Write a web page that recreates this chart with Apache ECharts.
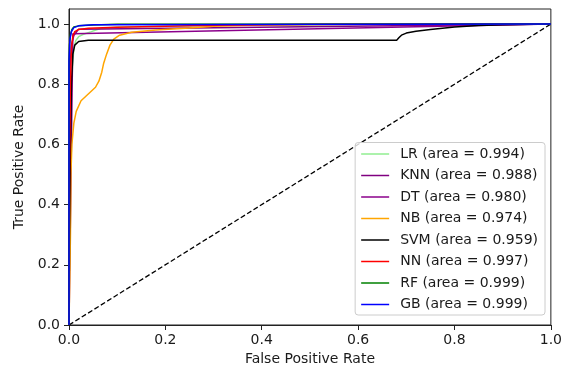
<!DOCTYPE html>
<html>
<head>
<meta charset="utf-8">
<script src="https://cdn.jsdelivr.net/npm/echarts@6/dist/echarts.min.js"></script>
<style>
html,body{margin:0;padding:0;background:#fff;}
#chart{width:565px;height:371px;}
</style>
</head>
<body>
<div id="chart"></div>
<script>
// ---- data ----
const names = ['LR (area = 0.994)','KNN (area = 0.988)','DT (area = 0.980)','NB (area = 0.974)','SVM (area = 0.959)','NN (area = 0.997)','RF (area = 0.999)','GB (area = 0.999)'];
const colors = ['#90ee90','#800080','#8b008b','#ffa500','#000000','#ff0000','#008000','#0000ff'];

const lrFpr = [0,0.002,0.004,0.007,0.01,0.014,0.02,0.03,0.045,0.065,0.1,0.2,0.4,0.7,1];
const lrTpr = [0,0.45,0.7,0.85,0.92,0.945,0.958,0.966,0.974,0.985,0.99,0.993,0.997,0.999,1];

const knnFpr = [0,0.002,0.005,0.01,0.02,1];
const knnTpr = [0,0.85,0.93,0.962,0.983,1];

const dtFpr = [0,0.008,1];
const dtTpr = [0,0.968,1];

const nbFpr = [0,0.001,0.003,0.004,0.006,0.01,0.015,0.025,0.035,0.045,0.055,0.062,0.068,0.072,0.078,0.085,0.093,0.105,0.13,0.18,0.25,0.3,0.4,0.6,1];
const nbTpr = [0,0.1,0.3,0.5,0.6,0.67,0.71,0.745,0.76,0.775,0.79,0.81,0.84,0.87,0.9,0.93,0.95,0.963,0.973,0.98,0.987,0.993,0.997,0.999,1];

const svmFpr = [0,0.001,0.003,0.005,0.008,0.012,0.02,0.04,0.68,0.685,0.69,0.70,0.72,0.75,0.8,0.85,0.9,1];
const svmTpr = [0,0.3,0.6,0.8,0.9,0.93,0.942,0.946,0.946,0.955,0.963,0.97,0.976,0.982,0.99,0.995,0.998,1];

const nnFpr = [0,0.001,0.003,0.005,0.008,0.012,0.02,0.04,0.1,0.15,0.3,0.5,1];
const nnTpr = [0,0.5,0.8,0.92,0.96,0.975,0.982,0.986,0.989,0.991,0.996,0.999,1];

const rfFpr = [0,0,0.001,0.003,0.006,0.01,0.02,0.05,0.1,1];
const rfTpr = [0,0.85,0.93,0.965,0.982,0.99,0.994,0.997,0.999,1];

const gbFpr = [0,0,0.002,0.005,0.01,0.02,0.05,1];
const gbTpr = [0,0.88,0.95,0.975,0.988,0.994,0.998,1];

const diagFpr = [0,1];
const diagTpr = [0,1];

const xTicks = [0,0.2,0.4,0.6,0.8,1.0];
const yTicks = [0,0.2,0.4,0.6,0.8,1.0];

// ---- build ----
const curves = [[lrFpr,lrTpr],[knnFpr,knnTpr],[dtFpr,dtTpr],[nbFpr,nbTpr],[svmFpr,svmTpr],[nnFpr,nnTpr],[rfFpr,rfTpr],[gbFpr,gbTpr]];
const zip = (a,b) => a.map((v,i)=>[v,b[i]]);
const FONT = 'DejaVu Sans';
const TXT = '#1a1a1a';

const series = [];
curves.forEach((c,i)=>{
  series.push({
    name: names[i], type:'line', data: zip(c[0],c[1]),
    symbol:'none', showSymbol:false, animation:false,
    lineStyle:{color:colors[i], width:1.5}, itemStyle:{color:colors[i]}
  });
});
series.push({
  name:'diag', type:'line', data: zip(diagFpr,diagTpr), symbol:'none', animation:false,
  lineStyle:{color:'#000', width:1.3, type:[5,2.5]}, z:1
});

const chart = echarts.init(document.getElementById('chart'), null, {renderer:'canvas'});
chart.setOption({
  animation:false,
  backgroundColor:'#fff',
  grid:{left:69, right:13, top:9, bottom:46, show:true, borderColor:'#222', borderWidth:1, backgroundColor:'transparent'},
  xAxis:{
    type:'value', min:0, max:1, interval:0.2,
    name:'False Positive Rate', nameLocation:'middle', nameGap:26,
    nameTextStyle:{fontFamily:FONT, fontSize:14, color:TXT},
    axisLine:{lineStyle:{color:'#222', width:1}},
    axisTick:{show:true, length:5, lineStyle:{color:'#222'}},
    axisLabel:{fontFamily:FONT, fontSize:14, color:TXT, margin:8, formatter:v=>v.toFixed(1)},
    splitLine:{show:false}
  },
  yAxis:{
    type:'value', min:0, max:1.05,
    name:'True Positive Rate', nameLocation:'middle', nameGap:42,
    nameTextStyle:{fontFamily:FONT, fontSize:14, color:TXT},
    axisLine:{show:true, lineStyle:{color:'#222', width:1}},
    axisTick:{show:true, length:5, lineStyle:{color:'#222'}, customValues:yTicks},
    axisLabel:{fontFamily:FONT, fontSize:14, color:TXT, margin:9, customValues:yTicks, formatter:v=>v.toFixed(1)},
    splitLine:{show:false}
  },
  legend:{
    data:names, orient:'vertical', right:20, bottom:56,
    icon:'rect', itemWidth:28, itemHeight:1.5, itemGap:6.5,
    backgroundColor:'rgba(255,255,255,0.8)', borderColor:'#cccccc', borderWidth:1, borderRadius:3,
    padding:[4,7,3,6],
    textStyle:{fontFamily:FONT, fontSize:14, color:TXT, lineHeight:15, padding:[0,0,0,6]}
  },
  series: series
});
</script>
</body>
</html>
